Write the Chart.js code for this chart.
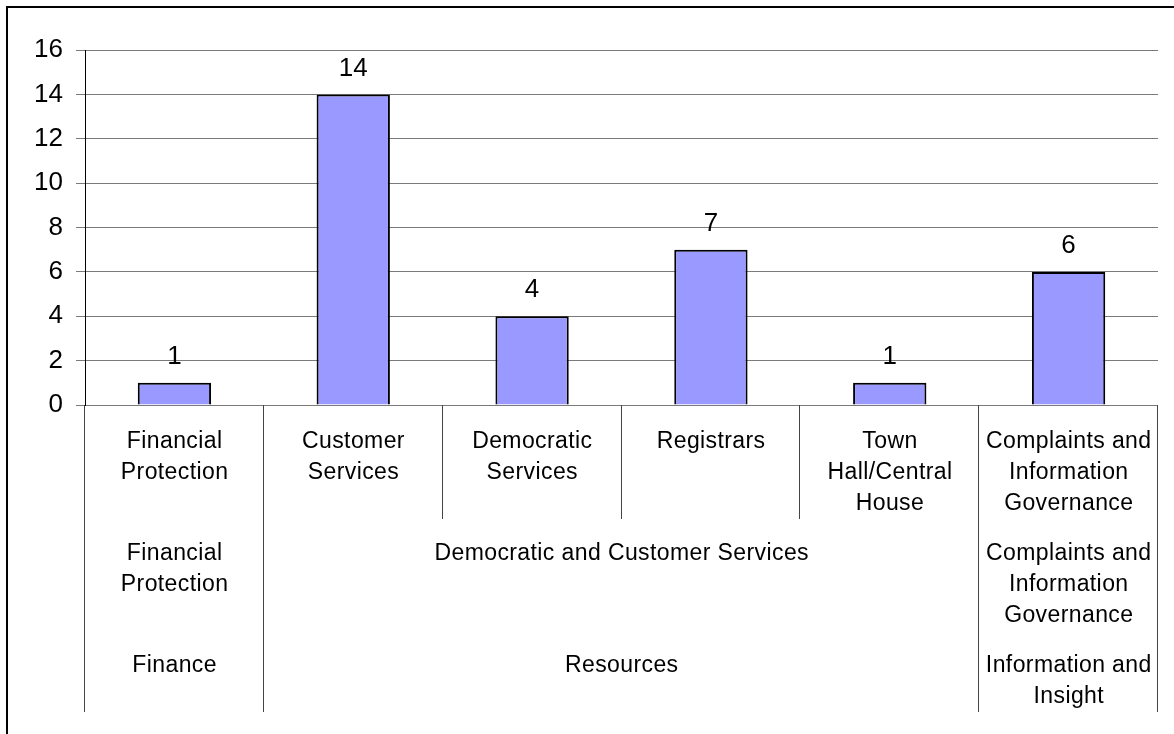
<!DOCTYPE html>
<html>
<head>
<meta charset="utf-8">
<script src="https://cdn.jsdelivr.net/npm/chart.js@4/dist/chart.umd.min.js"></script>
<style>
  html, body { margin: 0; padding: 0; background: #fff; }
  #wrap { width: 1174px; height: 734px; position: relative; }
</style>
</head>
<body>
<div id="wrap"><canvas id="complaintsChart"></canvas></div>
<script>
// data
const teams = [
  ['Financial', 'Protection'],
  ['Customer', 'Services'],
  ['Democratic', 'Services'],
  ['Registrars'],
  ['Town', 'Hall/Central', 'House'],
  ['Complaints and', 'Information', 'Governance']
];
const counts = [1, 14, 4, 7, 1, 6];

// grouping levels below the teams (label lines + how many teams each covers)
const serviceLabels = [['Financial', 'Protection'], ['Democratic and Customer Services'], ['Complaints and', 'Information', 'Governance']];
const serviceSpans = [1, 4, 1];
const directorateLabels = [['Finance'], ['Resources'], ['Information and', 'Insight']];
const directorateSpans = [1, 4, 1];

const yTicks = [0, 2, 4, 6, 8, 10, 12, 14, 16];

const FONT = '"Liberation Sans", Arial, sans-serif';

// frame around the whole chart
const framePlugin = {
  id: 'frame',
  afterDraw(chart) {
    const c = chart.ctx;
    c.save();
    c.fillStyle = '#000';
    c.fillRect(6, 6, chart.width, 2);
    c.fillRect(6, 6, 2, chart.height);
    c.restore();
  }
};

// value labels above bars
const valueLabels = {
  id: 'valueLabels',
  afterDatasetsDraw(chart) {
    const c = chart.ctx;
    const meta = chart.getDatasetMeta(0);
    c.save();
    c.font = '26px ' + FONT;
    c.fillStyle = '#000';
    c.textAlign = 'center';
    c.textBaseline = 'middle';
    meta.data.forEach((bar, i) => {
      c.fillText(String(counts[i]), bar.x, bar.y - 26);
    });
    c.restore();
  }
};

// multi-level category axis drawn from the x scale
const multiLevelAxis = {
  id: 'multiLevelAxis',
  afterDraw(chart) {
    const c = chart.ctx;
    const x = chart.scales.x;
    const area = chart.chartArea;
    const n = teams.length;
    const w = (area.right - area.left) / n;
    const edge = i => x.getPixelForValue(i) - w / 2;
    const rowBottoms = [area.bottom + 114, area.bottom + 226, area.bottom + 307];
    const firstLine = [area.bottom + 37, area.bottom + 149, area.bottom + 261];
    const lineH = 31;

    // boundaries shared by the outer groups
    const outer = new Set([0, n]);
    let acc = 0;
    directorateSpans.forEach(s => { acc += s; outer.add(acc); });

    c.save();
    c.strokeStyle = '#444';
    c.lineWidth = 1;
    for (let i = 0; i <= n; i++) {
      const px = Math.round(edge(i)) - 0.5;
      const bottom = outer.has(i) ? rowBottoms[2] : rowBottoms[0];
      c.beginPath();
      c.moveTo(px, area.bottom);
      c.lineTo(px, bottom);
      c.stroke();
    }

    c.font = '23px ' + FONT;
    c.letterSpacing = '0.4px';
    c.fillStyle = '#000';
    c.textAlign = 'center';
    c.textBaseline = 'middle';

    const drawLines = (lines, cx, y0) => {
      lines.forEach((t, k) => c.fillText(t, cx + 0.2, y0 + k * lineH));
    };

    teams.forEach((lines, i) => drawLines(lines, x.getPixelForValue(i), firstLine[0]));

    [[serviceLabels, serviceSpans], [directorateLabels, directorateSpans]].forEach(([labels, spans], lvl) => {
      let start = 0;
      labels.forEach((lines, g) => {
        const end = start + spans[g];
        const cx = (edge(start) + edge(end)) / 2;
        drawLines(lines, cx, firstLine[lvl + 1]);
        start = end;
      });
    });
    c.restore();
  }
};

new Chart(document.getElementById('complaintsChart'), {
  type: 'bar',
  data: {
    labels: teams.map(t => t.join(' ')),
    datasets: [{
      data: counts,
      backgroundColor: '#9999ff',
      borderColor: '#000',
      borderWidth: 2,
      borderSkipped: 'bottom',
      barPercentage: 0.41,
      categoryPercentage: 1
    }]
  },
  options: {
    responsive: true,
    maintainAspectRatio: false,
    animation: false,
    layout: { padding: { top: 50, right: 16, bottom: 329, left: 0 } },
    plugins: {
      legend: { display: false },
      tooltip: { enabled: false }
    },
    scales: {
      x: { display: false },
      y: {
        min: 0,
        max: 16,
        afterFit(s) { s.width = 85; },
        afterBuildTicks(s) { s.ticks = yTicks.map(v => ({ value: v })); },
        ticks: {
          font: { size: 26, family: FONT },
          color: '#000',
          padding: 13
        },
        grid: {
          color: '#7a7a7a',
          tickLength: 9,
          tickColor: '#7a7a7a'
        },
        border: { color: '#000', width: 1 }
      }
    }
  },
  plugins: [framePlugin, valueLabels, multiLevelAxis]
});
</script>
</body>
</html>
